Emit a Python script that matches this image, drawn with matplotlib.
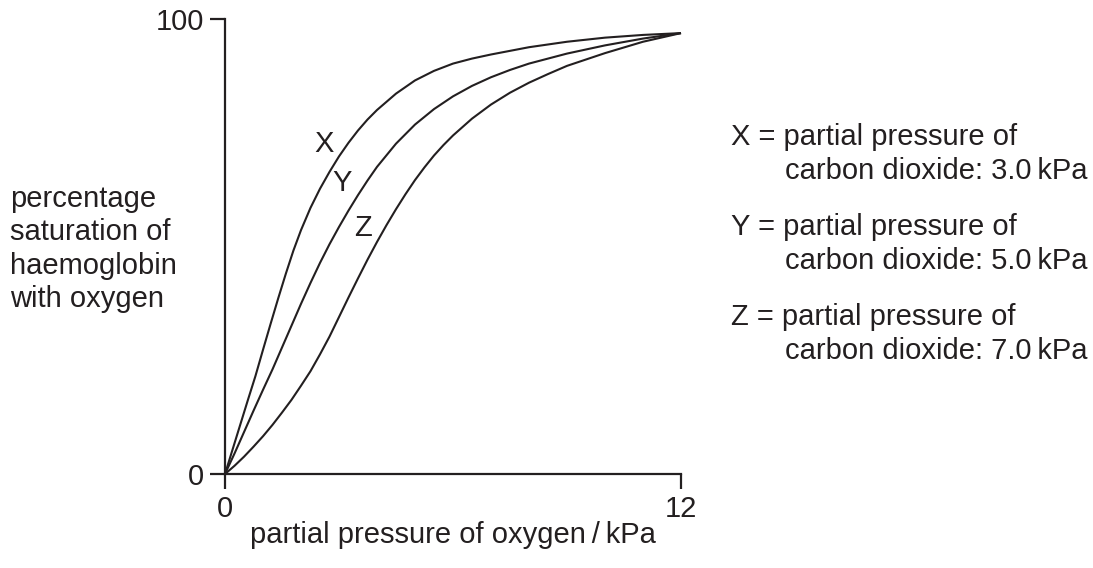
import matplotlib
matplotlib.use("Agg")
import matplotlib.pyplot as plt

# Data (partial pressure of O2 in kPa, % saturation)
x_X = [0, 0.2, 0.4, 0.6, 0.8, 1.0, 1.2, 1.4, 1.6, 1.8, 2.0, 2.25, 2.5, 2.75, 3.0, 3.25,
       3.5, 3.75, 4.0, 4.5, 5.0, 5.5, 6.0, 6.5, 7.0, 7.5, 8.0, 9.0, 10.0, 11.0, 12.0]
y_X = [0, 5.4, 10.8, 16.2, 21.5, 27.3, 33.0, 38.6, 44.0, 49.1, 53.6, 58.5, 62.7, 66.4, 69.8, 72.8,
       75.5, 77.9, 80.0, 83.6, 86.5, 88.6, 90.2, 91.3, 92.2, 93.0, 93.8, 95.0, 95.9, 96.5, 96.9]

x_Y = [0, 0.25, 0.5, 0.75, 1.0, 1.25, 1.5, 1.75, 2.0, 2.25, 2.5, 2.75, 3.0, 3.25, 3.5,
       3.75, 4.0, 4.5, 5.0, 5.5, 6.0, 6.5, 7.0, 7.5, 8.0, 9.0, 10.0, 11.0, 12.0]
y_Y = [0, 4.5, 9.2, 13.9, 18.5, 23.0, 27.8, 32.6, 37.4, 42.0, 46.4, 50.5, 54.3, 57.9, 61.3,
       64.5, 67.5, 72.6, 76.8, 80.2, 83.0, 85.3, 87.2, 88.8, 90.2, 92.4, 94.2, 95.7, 96.9]

x_Z = [0, 0.25, 0.5, 0.75, 1.0, 1.25, 1.5, 1.75, 2.0, 2.25, 2.5, 2.75, 3.0, 3.25, 3.5,
       3.75, 4.0, 4.25, 4.5, 4.75, 5.0, 5.25, 5.5, 5.75, 6.0, 6.5, 7.0, 7.5, 8.0, 8.5,
       9.0, 10.0, 11.0, 12.0]
y_Z = [0, 1.8, 3.8, 6.0, 8.3, 10.8, 13.5, 16.3, 19.4, 22.6, 26.3, 30.2, 34.5, 38.8, 43.0,
       47.1, 51.0, 54.7, 58.2, 61.5, 64.6, 67.4, 70.0, 72.3, 74.4, 78.1, 81.2, 83.8, 86.0, 87.9,
       89.7, 92.5, 95.0, 96.9]

curve_names = ["X", "Y", "Z"]
label_pos = [(2.605, 72.6), (3.08, 64.0), (3.64, 54.1)]
legend_lines = [
    ("X = partial pressure of", "carbon dioxide: 3.0\u2009kPa"),
    ("Y = partial pressure of", "carbon dioxide: 5.0\u2009kPa"),
    ("Z = partial pressure of", "carbon dioxide: 7.0\u2009kPa"),
]
x_ticks = [0, 12]
y_ticks = [0, 100]
x_label = "partial pressure of oxygen\u2009/\u2009kPa"
y_label = "percentage\nsaturation of\nhaemoglobin\nwith oxygen"

INK = "#231f20"
FONT = ["Liberation Sans", "DejaVu Sans"]
plt.rcParams["font.family"] = FONT
FS = 21

W, H = 1093, 568
fig = plt.figure(figsize=(W / 100, H / 100), dpi=100)
ax = fig.add_axes([225 / W, 1 - 474 / H, (681 - 225) / W, (474 - 19) / H])
ax.set_xlim(0, 12)
ax.set_ylim(0, 100)

for xs, ys in [(x_X, y_X), (x_Y, y_Y), (x_Z, y_Z)]:
    ax.plot(xs, ys, color=INK, lw=1.5, clip_on=False, solid_capstyle="butt",
            solid_joinstyle="round")

for name, (lx, ly) in zip(curve_names, label_pos):
    ax.text(lx, ly, name, fontsize=FS, color=INK, ha="center", va="center")

for s in ["top", "right"]:
    ax.spines[s].set_visible(False)
for s in ["left", "bottom"]:
    ax.spines[s].set_color(INK)
    ax.spines[s].set_linewidth(1.6)

ax.set_xticks(x_ticks)
ax.set_yticks(y_ticks)
ax.set_xticklabels([str(v) for v in x_ticks])
ax.set_yticklabels([str(v) for v in y_ticks])
ax.tick_params(axis="both", direction="out", length=10.8, width=1.6, color=INK,
               labelsize=FS, labelcolor=INK)
ax.tick_params(axis="x", pad=4)
ax.tick_params(axis="y", pad=4)

fig.text(453 / W, 1 - 535 / H, x_label, fontsize=FS, color=INK, ha="center", va="center")
fig.text(10 / W, 1 - 249 / H, y_label, fontsize=FS, color=INK, ha="left", va="center",
         linespacing=1.24)

line1_y = [137, 227, 317]
for (l1, l2), yy in zip(legend_lines, line1_y):
    fig.text(731 / W, 1 - yy / H, l1, fontsize=FS, color=INK, ha="left", va="center")
    fig.text(785 / W, 1 - (yy + 34) / H, l2, fontsize=FS, color=INK, ha="left", va="center")

fig.savefig("out.png", dpi=100, facecolor="white")
